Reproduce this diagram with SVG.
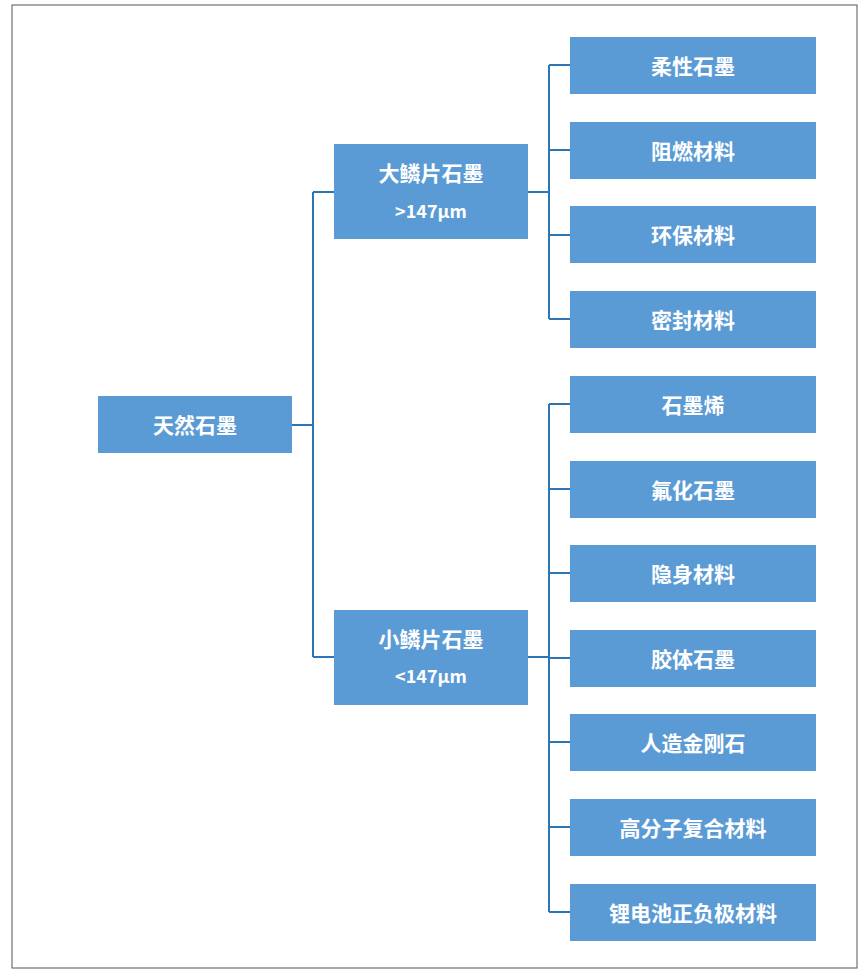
<svg xmlns="http://www.w3.org/2000/svg" width="860" height="976" viewBox="0 0 860 976">
<style>
.b{fill:#5b9bd5}
.t{fill:#fff;font-family:"Noto Sans CJK SC","Liberation Sans",sans-serif;font-weight:bold;font-size:21px;text-anchor:middle;dominant-baseline:central}
.s{font-size:18px}
.c{stroke:#2e75b6;stroke-width:2;fill:none}
</style>
<rect x="12" y="5" width="845" height="963" fill="#fff" stroke="#555" stroke-width="1"/>
<g id="connectors" class="c">
<path d="M292 425H313M313 192V657M313 192H334M313 657H334"/>
<path d="M528 192H549M549 65V319M549 65H570M549 150H570M549 235H570M549 319H570"/>
<path d="M528 657H549M549 404V912M549 404H570M549 489H570M549 573H570M549 658H570M549 742H570M549 827H570M549 912H570"/>
</g>
<g id="root"><rect class="b" x="98" y="396" width="194" height="57"/><text class="t" x="195" y="424">天然石墨</text></g>
<g id="big"><rect class="b" x="334" y="144" width="194" height="95"/><text class="t" x="431" y="172">大鳞片石墨</text><text class="t s" x="431" y="210">&gt;147μm</text></g>
<g id="small"><rect class="b" x="334" y="610" width="194" height="95"/><text class="t" x="431" y="638">小鳞片石墨</text><text class="t s" x="431" y="675">&lt;147μm</text></g>
<g id="l1"><rect class="b" x="570" y="37" width="246" height="57"/><text class="t" x="693" y="65">柔性石墨</text></g>
<g id="l2"><rect class="b" x="570" y="122" width="246" height="57"/><text class="t" x="693" y="150">阻燃材料</text></g>
<g id="l3"><rect class="b" x="570" y="206" width="246" height="57"/><text class="t" x="693" y="234">环保材料</text></g>
<g id="l4"><rect class="b" x="570" y="291" width="246" height="57"/><text class="t" x="693" y="319">密封材料</text></g>
<g id="l5"><rect class="b" x="570" y="376" width="246" height="57"/><text class="t" x="693" y="404">石墨烯</text></g>
<g id="l6"><rect class="b" x="570" y="461" width="246" height="57"/><text class="t" x="693" y="489">氟化石墨</text></g>
<g id="l7"><rect class="b" x="570" y="545" width="246" height="57"/><text class="t" x="693" y="573">隐身材料</text></g>
<g id="l8"><rect class="b" x="570" y="630" width="246" height="57"/><text class="t" x="693" y="658">胶体石墨</text></g>
<g id="l9"><rect class="b" x="570" y="714" width="246" height="57"/><text class="t" x="693" y="742">人造金刚石</text></g>
<g id="l10"><rect class="b" x="570" y="799" width="246" height="57"/><text class="t" x="693" y="827">高分子复合材料</text></g>
<g id="l11"><rect class="b" x="570" y="884" width="246" height="57"/><text class="t" x="693" y="912">锂电池正负极材料</text></g>
</svg>
